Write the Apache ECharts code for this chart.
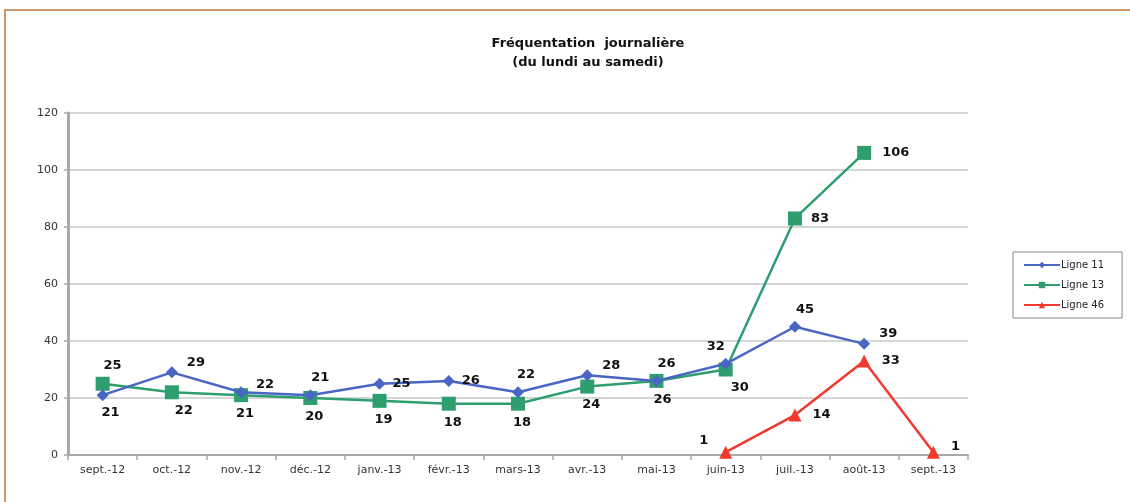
<!DOCTYPE html>
<html>
<head>
<meta charset="utf-8">
<script src="https://cdn.jsdelivr.net/npm/echarts@6/dist/echarts.min.js"></script>
<style>
  html, body { margin: 0; padding: 0; background: #fff; }
  #chart { width: 1130px; height: 502px; }
</style>
</head>
<body>
<div id="chart"></div>
<script>
// Données
const months = ['sept.-12', 'oct.-12', 'nov.-12', 'déc.-12', 'janv.-13', 'févr.-13', 'mars-13',
  'avr.-13', 'mai-13', 'juin-13', 'juil.-13', 'août-13', 'sept.-13']
const ligne11 = [21, 29, 22, 21, 25, 26, 22, 28, 26, 32, 45, 39, null]
const ligne13 = [25, 22, 21, 20, 19, 18, 18, 24, 26, 30, 83, 106, null]
const ligne46 = [null, null, null, null, null, null, null, null, null, 1, 14, 33, 1]

// position des étiquettes
const pos11 = [['bottom', [8, 0]], ['right', [4, -10]], ['right', [4, -8]], ['top', [10, 0]], ['right', [2, 0]],
  ['right', [2, 0]], ['top', [8, 0]], ['right', [4, -10]], ['top', [10, 0]], ['top', [-10, 0]],
  ['top', [10, 0]], ['right', [4, -10]], ['right', [0, 0]]]
const pos13 = [['top', [10, 0]], ['bottom', [12, 0]], ['bottom', [4, 0]], ['bottom', [4, 0]], ['bottom', [4, 0]],
  ['bottom', [4, 0]], ['bottom', [4, 0]], ['bottom', [4, 0]], ['bottom', [6, 0]], ['bottom', [14, 0]],
  ['right', [4, 0]], ['right', [6, 0]], ['right', [0, 0]]]
const pos46 = [null, null, null, null, null, null, null, null, null, ['left', [-6, -12]],
  ['right', [6, 0]], ['right', [6, 0]], ['right', [6, -6]]]

const chart = echarts.init(document.getElementById('chart'))

const withLabels = (values, pos) => values.map((v, i) => {
  if (v === null) return null
  return {
    value: v,
    label: { position: pos[i][0], offset: pos[i][1] }
  }
})

const labelStyle = {
  show: true,
  fontFamily: 'DejaVu Sans',
  fontWeight: 'bold',
  fontSize: 13,
  color: '#111'
}

const option = {
  animation: false,
  title: {
    text: 'Fréquentation  journalière\n(du lundi au samedi)',
    left: 583,
    textAlign: 'center',
    top: 29,
    textStyle: {
      fontFamily: 'DejaVu Sans',
      fontWeight: 'bold',
      fontSize: 13,
      lineHeight: 19,
      color: '#111'
    }
  },
  graphic: [
    {
      type: 'polyline',
      shape: { points: [[5, 502], [5, 10], [1132, 10]] },
      style: { stroke: '#c49a6c', lineWidth: 2, fill: null }
    }
  ],
  legend: {
    orient: 'vertical',
    left: 1013,
    top: 252,
    padding: [8, 18, 8, 10],
    itemGap: 10,
    itemWidth: 36,
    itemHeight: 8,
    borderColor: '#888',
    borderWidth: 1,
    textStyle: { fontFamily: 'DejaVu Sans', fontSize: 10, color: '#222', padding: [0, 0, 0, -4] },
    data: ['Ligne 11', 'Ligne 13', 'Ligne 46']
  },
  grid: {
    left: 68,
    right: 162,
    top: 113,
    bottom: 47
  },
  xAxis: {
    type: 'category',
    data: months,
    axisLine: { lineStyle: { color: '#a8a8a8', width: 2 } },
    axisTick: { show: true, length: 5, lineStyle: { color: '#a8a8a8', width: 1.5 } },
    axisLabel: { fontFamily: 'DejaVu Sans', fontSize: 11, color: '#333', margin: 10, interval: 0 }
  },
  yAxis: {
    type: 'value',
    min: 0,
    max: 120,
    interval: 20,
    axisLine: { show: true, lineStyle: { color: '#a8a8a8', width: 3 } },
    axisTick: { show: true, length: 4, lineStyle: { color: '#a8a8a8', width: 1.5 } },
    axisLabel: { fontFamily: 'DejaVu Sans', fontSize: 11, color: '#333', margin: 10 },
    splitLine: { lineStyle: { color: '#d6d6d6', width: 2 } }
  },
  series: [
    {
      name: 'Ligne 11',
      type: 'line',
      data: withLabels(ligne11, pos11),
      symbol: 'diamond',
      symbolSize: 12,
      color: '#4a66c4',
      lineStyle: { width: 2.5 },
      label: labelStyle,
      z: 3
    },
    {
      name: 'Ligne 13',
      type: 'line',
      data: withLabels(ligne13, pos13),
      symbol: 'rect',
      symbolSize: 14,
      color: '#2f9e6f',
      lineStyle: { width: 2.5 },
      label: labelStyle,
      z: 2
    },
    {
      name: 'Ligne 46',
      type: 'line',
      data: withLabels(ligne46, pos46),
      symbol: 'triangle',
      symbolSize: 13,
      color: '#f03a2e',
      lineStyle: { width: 2.5 },
      label: labelStyle,
      z: 4
    }
  ]
}

chart.setOption(option)
</script>
</body>
</html>
